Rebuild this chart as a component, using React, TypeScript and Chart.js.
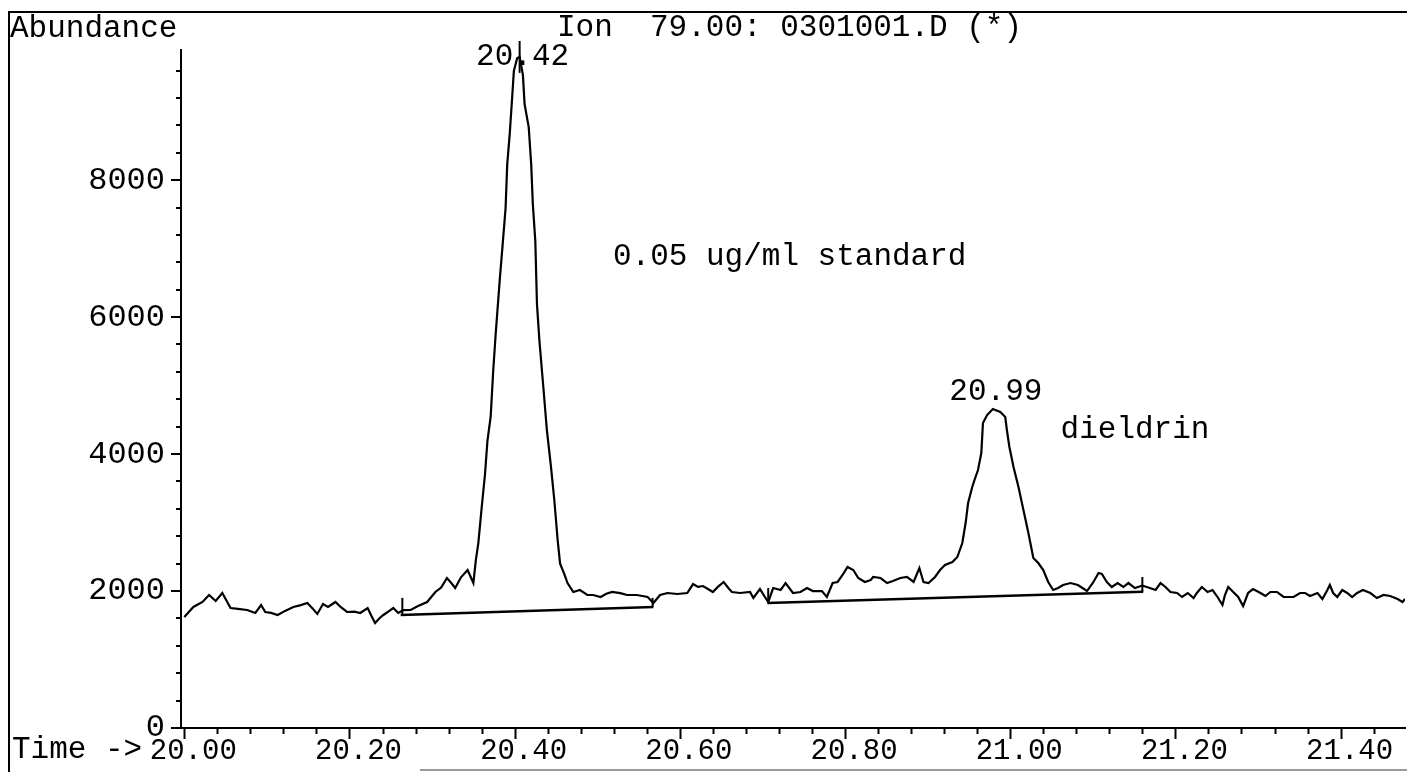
import React, { useEffect, useRef } from "react";
import { Chart, registerables } from "chart.js";

Chart.register(...registerables);

// ---- data ----
const retentionTimes = [
  20.0, 20.011, 20.022, 20.03, 20.038, 20.046, 20.056, 20.065, 20.076, 20.086,
  20.093, 20.098, 20.105, 20.113, 20.122, 20.132, 20.14, 20.149, 20.155, 20.161,
  20.168, 20.174, 20.183, 20.19, 20.197, 20.206, 20.213, 20.222, 20.226, 20.231,
  20.236, 20.241, 20.247, 20.253, 20.259, 20.265, 20.274, 20.283, 20.294, 20.304,
  20.311, 20.318, 20.323, 20.328, 20.335, 20.343, 20.35, 20.353, 20.356, 20.36,
  20.364, 20.367, 20.371, 20.374, 20.377, 20.382, 20.385, 20.389, 20.391, 20.394,
  20.397, 20.399, 20.403, 20.406, 20.41, 20.412, 20.417, 20.42, 20.422, 20.425,
  20.427, 20.43, 20.435, 20.439, 20.444, 20.448, 20.452, 20.455, 20.46, 20.464,
  20.471, 20.479, 20.488, 20.495, 20.504, 20.511, 20.518, 20.528, 20.536, 20.548,
  20.561, 20.568, 20.576, 20.585, 20.597, 20.609, 20.616, 20.622, 20.628, 20.634,
  20.64, 20.646, 20.653, 20.659, 20.663, 20.673, 20.685, 20.689, 20.697, 20.703,
  20.707, 20.713, 20.722, 20.728, 20.737, 20.746, 20.754, 20.761, 20.772, 20.778,
  20.785, 20.791, 20.797, 20.803, 20.81, 20.816, 20.824, 20.831, 20.834, 20.843,
  20.851, 20.858, 20.867, 20.875, 20.883, 20.89, 20.895, 20.901, 20.909, 20.915,
  20.921, 20.93, 20.936, 20.942, 20.946, 20.949, 20.954, 20.958, 20.961, 20.965,
  20.967, 20.972, 20.979, 20.988, 20.994, 20.996, 20.999, 21.004, 21.01, 21.016,
  21.022, 21.028, 21.034, 21.04, 21.046, 21.052, 21.058, 21.064, 21.073, 21.082,
  21.093, 21.1, 21.107, 21.111, 21.117, 21.123, 21.13, 21.137, 21.143, 21.151,
  21.16, 21.169, 21.176, 21.182, 21.188, 21.194, 21.202, 21.208, 21.215, 21.222,
  21.226, 21.232, 21.239, 21.245, 21.251, 21.257, 21.26, 21.264, 21.27, 21.276,
  21.282, 21.288, 21.294, 21.303, 21.309, 21.315, 21.323, 21.331, 21.343, 21.351,
  21.357, 21.363, 21.372, 21.378, 21.384, 21.387, 21.391, 21.396, 21.402, 21.408,
  21.414, 21.42, 21.427, 21.436, 21.444, 21.452, 21.46, 21.469, 21.475, 21.478,
];

const abundance = [
  1620, 1767, 1840, 1942, 1854, 1971, 1752, 1740, 1723, 1680,
  1796, 1694, 1680, 1650, 1710, 1767, 1790, 1825, 1750, 1665,
  1810, 1767, 1840, 1760, 1694, 1700, 1680, 1752, 1650, 1533,
  1600, 1650, 1700, 1752, 1680, 1720, 1723, 1780, 1840, 1986,
  2050, 2190, 2120, 2044, 2200, 2307, 2117, 2450, 2700, 3212,
  3694, 4190, 4555, 5212, 5752, 6555, 6993, 7592, 8234, 8672,
  9213, 9592, 9780, 9800, 9534, 9110, 8775, 8234, 7650, 7110,
  6190, 5650, 4935, 4350, 3810, 3329, 2750, 2400, 2250, 2117,
  1986, 2015, 1942, 1942, 1913, 1960, 1986, 1970, 1942, 1942,
  1913, 1825, 1942, 1971, 1957, 1971, 2102, 2060, 2073, 2030,
  1986, 2060, 2132, 2040, 1986, 1971, 1986, 1898, 2029, 1913,
  1840, 2044, 2015, 2117, 1971, 1986, 2044, 2000, 2000, 1913,
  2117, 2132, 2234, 2351, 2307, 2190, 2132, 2160, 2205, 2190,
  2117, 2146, 2190, 2205, 2132, 2336, 2132, 2117, 2205, 2307,
  2380, 2424, 2497, 2701, 2993, 3285, 3519, 3665, 3767, 4015,
  4453, 4570, 4657, 4614, 4541, 4351, 4103, 3810, 3519, 3183,
  2847, 2482, 2409, 2307, 2132, 2015, 2044, 2088, 2117, 2088,
  2000, 2117, 2263, 2250, 2132, 2059, 2117, 2059, 2117, 2044,
  2080, 2044, 2015, 2117, 2059, 1986, 1971, 1913, 1971, 1898,
  1971, 2059, 1986, 2015, 1913, 1796, 1942, 2059, 1986, 1913,
  1781, 1971, 2029, 1971, 1927, 1986, 1986, 1913, 1913, 1971,
  1971, 1927, 1971, 1883, 2015, 2088, 1971, 1913, 2015, 1971,
  1913, 1971, 2015, 1971, 1898, 1942, 1927, 1883, 1840, 1883,
];

// integration baselines
const baselineStartTimes = [20.262, 20.706];
const baselineEndTimes = [20.568, 21.161];
const baselineStartValues = [1650, 1825];
const baselineEndValues = [1767, 1990];

// integration start / stop markers
const markerTimes = [20.264, 20.567, 20.707, 21.16];
const markerBaseValues = [1664, 1767, 1825, 1986];
const markerTopValues = [1900, 1900, 2044, 2205];

// peak annotations
const peakTimes = [20.406, 20.979];
const peakApexValues = [9800, 4657];
const peakLabels = ["20.42", "20.99"];

// free notes
const noteTexts = ["0.05 ug/ml standard", "dieldrin"];
const noteTimes = [20.519, 21.061];
const noteValues = [6877, 4351];

// axes
const X_MIN = 19.996;
const X_MAX = 21.478;
const X_FIRST_TICK = 20.0;
const X_MINOR_STEP = 0.04;
const X_MAJOR_STEP = 0.2;
const Y_MIN = 0;
const Y_MAX = 9900;
const Y_MINOR_STEP = 400;
const Y_MAJOR_STEP = 2000;

const titleText = "Ion  79.00: 0301001.D (*)";
const yAxisTitle = "Abundance";
const xAxisPrefix = "Time ->";

const FONT_FAMILY = '"Liberation Mono", "DejaVu Sans Mono", monospace';
const FONT_SIZE = 31;

const isMultiple = (v: number, step: number) =>
  Math.abs(v / step - Math.round(v / step)) < 1e-6;

const buildTickValues = (first: number, last: number, step: number) => {
  const out: number[] = [];
  const n = Math.floor((last - first) / step + 1e-9);
  for (let i = 0; i <= n; i++) out.push(Math.round((first + i * step) * 1000) / 1000);
  return out;
};

const overlayPlugin = {
  id: "overlay",
  afterDraw(chart: any) {
    const ctx = chart.ctx as CanvasRenderingContext2D;
    const xs = chart.scales.x;
    const ys = chart.scales.y;
    const { left, top, bottom } = chart.chartArea;
    ctx.save();
    ctx.strokeStyle = "#000";
    ctx.fillStyle = "#000";
    ctx.lineWidth = 2;

    // x tick marks
    xs.ticks.forEach((t: any) => {
      const major = isMultiple(t.value, X_MAJOR_STEP);
      const px = Math.round(xs.getPixelForValue(t.value)) + 0.5;
      ctx.beginPath();
      ctx.moveTo(px, bottom);
      ctx.lineTo(px, bottom + (major ? 11 : 6));
      ctx.stroke();
    });
    // y tick marks
    ys.ticks.forEach((t: any) => {
      const major = isMultiple(t.value, Y_MAJOR_STEP);
      const py = Math.round(ys.getPixelForValue(t.value));
      ctx.beginPath();
      ctx.moveTo(left, py);
      ctx.lineTo(left - (major ? 10 : 5), py);
      ctx.stroke();
    });

    ctx.font = `${FONT_SIZE}px ${FONT_FAMILY}`;
    ctx.textBaseline = "alphabetic";

    // header texts
    ctx.textAlign = "left";
    ctx.fillText(yAxisTitle, 10, 37);
    ctx.fillText(titleText, 557, 36);

    // x axis prefix
    ctx.fillText(xAxisPrefix, 12, 758);

    // peak labels + markers
    ctx.textAlign = "center";
    ctx.textBaseline = "middle";
    peakTimes.forEach((pt, i) => {
      const px = xs.getPixelForValue(pt);
      const py = ys.getPixelForValue(peakApexValues[i]);
      const ly = Math.max(top + 7, py - 17);
      ctx.fillText(peakLabels[i], px + 3, ly);
      if (i === 0) {
        ctx.beginPath();
        ctx.moveTo(px, ly - 16);
        ctx.lineTo(px, py + 16);
        ctx.stroke();
      }
    });

    // notes
    ctx.textAlign = "left";
    noteTexts.forEach((txt, i) => {
      ctx.fillText(txt, xs.getPixelForValue(noteTimes[i]), ys.getPixelForValue(noteValues[i]));
    });

    // page frame
    ctx.lineWidth = 2;
    ctx.beginPath();
    ctx.moveTo(8, 12);
    ctx.lineTo(1407, 12);
    ctx.moveTo(9, 12);
    ctx.lineTo(9, 772);
    ctx.stroke();
    ctx.strokeStyle = "#9a9a9a";
    ctx.beginPath();
    ctx.moveTo(420, 770);
    ctx.lineTo(1407, 770);
    ctx.stroke();
    ctx.restore();
  },
};

export default function App() {
  const canvasRef = useRef<HTMLCanvasElement | null>(null);

  useEffect(() => {
    const canvas = canvasRef.current;
    if (!canvas) return;

    const trace = retentionTimes.map((t, i) => ({ x: t, y: abundance[i] }));
    const datasets: any[] = [
      {
        data: trace,
        borderColor: "#000",
        borderWidth: 2.2,
        pointRadius: 0,
        tension: 0,
      },
    ];
    baselineStartTimes.forEach((st, i) => {
      datasets.push({
        data: [
          { x: st, y: baselineStartValues[i] },
          { x: baselineEndTimes[i], y: baselineEndValues[i] },
        ],
        borderColor: "#000",
        borderWidth: 2.5,
        pointRadius: 0,
      });
    });
    markerTimes.forEach((mt, i) => {
      datasets.push({
        data: [
          { x: mt, y: markerBaseValues[i] },
          { x: mt, y: markerTopValues[i] },
        ],
        borderColor: "#000",
        borderWidth: 2,
        pointRadius: 0,
      });
    });

    const xTickValues = buildTickValues(X_FIRST_TICK, X_MAX, X_MINOR_STEP);
    const yTickValues = buildTickValues(Y_MIN, Y_MAX, Y_MINOR_STEP);

    const chart = new Chart(canvas, {
      type: "line",
      data: { datasets },
      plugins: [overlayPlugin],
      options: {
        responsive: false,
        animation: false,
        devicePixelRatio: 1,
        layout: { padding: { left: 0, right: 2, top: 50, bottom: 0 } },
        plugins: {
          legend: { display: false },
          title: { display: false },
          tooltip: { enabled: false },
        },
        scales: {
          x: {
            type: "linear",
            min: X_MIN,
            max: X_MAX,
            grid: { display: false, drawTicks: false },
            border: { display: true, color: "#000", width: 2 },
            afterBuildTicks: (scale: any) => {
              scale.ticks = xTickValues.map((v) => ({ value: v }));
            },
            afterFit: (scale: any) => {
              scale.height = 44;
            },
            ticks: {
              autoSkip: false,
              maxRotation: 0,
              minRotation: 0,
              padding: 6,
              labelOffset: 9,
              color: "#000",
              font: { family: FONT_FAMILY, size: 29 },
              callback: (v: any) => {
                const n = Number(v);
                return isMultiple(n, X_MAJOR_STEP) ? n.toFixed(2) : "";
              },
            },
          },
          y: {
            type: "linear",
            min: Y_MIN,
            max: Y_MAX,
            grid: { display: false, drawTicks: false },
            border: { display: true, color: "#000", width: 2 },
            afterBuildTicks: (scale: any) => {
              scale.ticks = yTickValues.map((v) => ({ value: v }));
            },
            afterFit: (scale: any) => {
              scale.width = 181;
            },
            ticks: {
              autoSkip: false,
              padding: 16,
              color: "#000",
              font: { family: FONT_FAMILY, size: 32 },
              callback: (v: any) => {
                const n = Number(v);
                return isMultiple(n, Y_MAJOR_STEP) ? String(n) : "";
              },
            },
          },
        },
      } as any,
    });

    return () => chart.destroy();
  }, []);

  return (
    <div style={{ position: "fixed", left: 0, top: 0, width: 1407, height: 772, background: "#fff" }}>
      <canvas ref={canvasRef} width={1407} height={772} style={{ width: 1407, height: 772, display: "block" }} />
    </div>
  );
}
